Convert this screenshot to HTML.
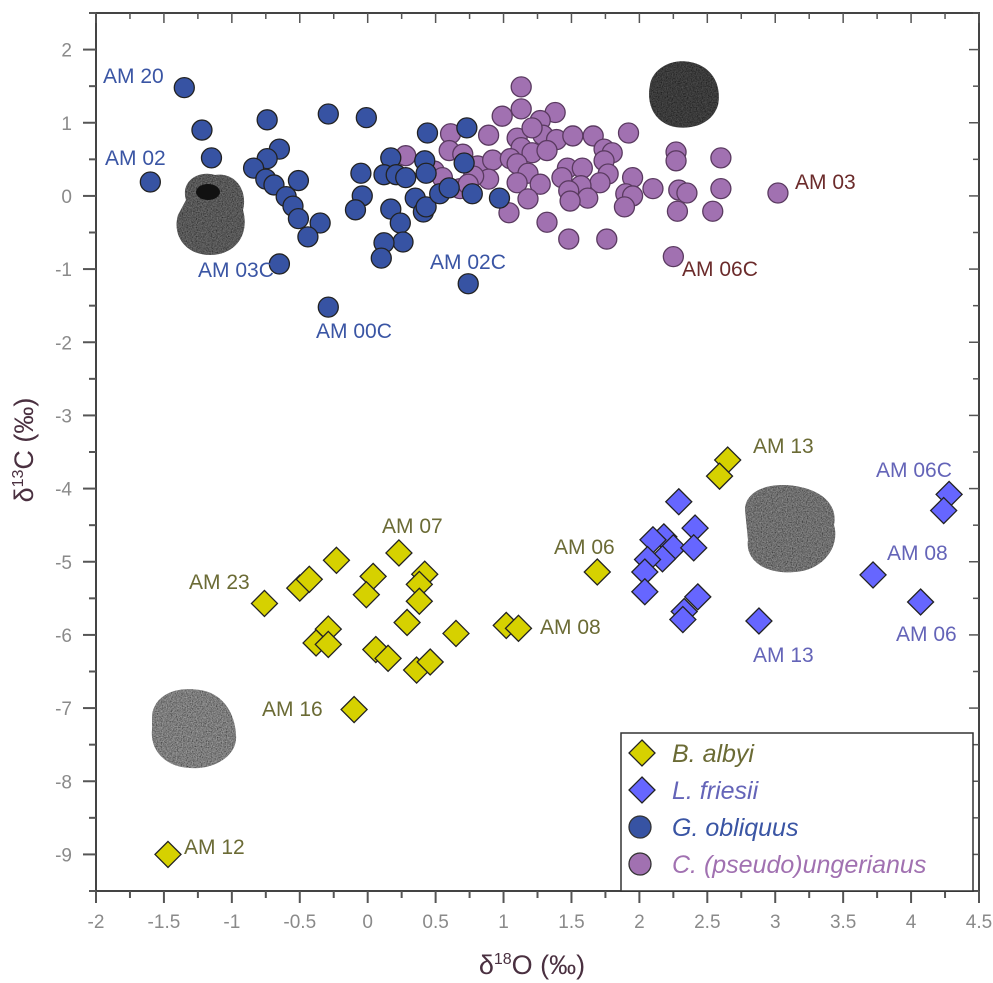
<!DOCTYPE html>
<html><head><meta charset="utf-8"><style>
html,body{margin:0;padding:0;background:#fff}
svg{display:block;font-family:"Liberation Sans",sans-serif}
</style></head><body>
<svg id="chart" width="993" height="983" viewBox="0 0 993 983">
<defs>
<filter id="grain" x="0" y="0" width="100%" height="100%">
<feTurbulence type="fractalNoise" baseFrequency="0.8" numOctaves="2" result="n"/>
<feColorMatrix in="n" type="matrix" values="0 0 0 0 0  0 0 0 0 0  0 0 0 0 0  0 0 0 -1.2 1.1" result="g"/>
<feComposite in="g" in2="SourceGraphic" operator="in" result="m"/>
<feMerge><feMergeNode in="SourceGraphic"/><feMergeNode in="m"/></feMerge>
</filter>
</defs>
<g id="axes"></g>
<g id="pics"></g>
<g id="marks"></g>
<g id="labels"></g>
</svg>
<script>
const xTicks=[-2,-1.5,-1,-0.5,0,0.5,1,1.5,2,2.5,3,3.5,4,4.5];
const yTicks=[2,1,0,-1,-2,-3,-4,-5,-6,-7,-8,-9];
const obliquusX=[-1.35,-1.22,-1.15,-1.60,-0.74,-0.29,-0.01,-0.65,-0.74,-0.84,-0.75,-0.69,-0.51,-0.60,-0.55,-0.51,-0.35,-0.44,-0.65,-0.29,-0.05,-0.04,-0.09,0.17,0.12,0.21,0.28,0.17,0.24,0.26,0.12,0.10,0.44,0.42,0.43,0.35,0.41,0.43,0.53,0.60,0.73,0.71,0.77,0.97,0.74];
const obliquusY=[1.48,0.90,0.52,0.19,1.04,1.12,1.07,0.64,0.51,0.38,0.23,0.15,0.21,-0.01,-0.14,-0.31,-0.37,-0.56,-0.93,-1.52,0.31,0.0,-0.19,0.52,0.29,0.29,0.25,-0.18,-0.37,-0.63,-0.64,-0.85,0.86,0.48,0.31,-0.03,-0.22,-0.15,0.03,0.11,0.93,0.45,0.03,-0.03,-1.20];
const ungerX=[0.28,0.49,0.68,0.83,0.61,1.13,1.13,0.99,1.38,1.27,0.89,1.10,1.29,1.39,1.51,1.66,1.92,1.21,1.13,1.21,1.32,1.74,1.80,2.27,2.27,2.60,0.60,0.70,0.81,0.92,1.05,1.10,1.18,0.89,0.78,0.55,0.74,1.10,1.27,1.47,1.58,1.43,1.74,1.77,1.71,1.57,1.48,1.62,1.49,1.18,1.04,1.32,1.48,1.76,1.95,1.90,1.95,1.89,2.10,2.29,2.35,2.28,2.60,2.54,3.02,2.25];
const ungerY=[0.55,0.34,0.10,0.38,0.85,1.49,1.19,1.09,1.14,1.03,0.83,0.79,0.83,0.77,0.82,0.82,0.86,0.93,0.66,0.59,0.62,0.64,0.59,0.60,0.48,0.52,0.62,0.57,0.41,0.49,0.51,0.44,0.31,0.23,0.27,0.25,0.16,0.18,0.16,0.38,0.38,0.25,0.48,0.30,0.18,0.14,0.07,-0.03,-0.07,-0.04,-0.23,-0.36,-0.59,-0.59,0.25,0.03,0.00,-0.15,0.10,0.08,0.04,-0.21,0.10,-0.21,0.04,-0.83];
const albyiX=[-0.76,-0.50,-0.43,-0.23,0.04,-0.01,0.23,0.42,0.38,0.38,0.29,-0.29,-0.38,-0.29,0.06,0.15,0.36,0.46,0.65,1.02,1.11,1.69,-0.10,-1.47,2.65,2.59];
const albyiY=[-5.57,-5.36,-5.24,-4.98,-5.20,-5.45,-4.88,-5.17,-5.31,-5.54,-5.83,-5.92,-6.11,-6.13,-6.20,-6.32,-6.48,-6.37,-5.98,-5.87,-5.91,-5.14,-7.02,-9.0,-3.61,-3.83];
const friesiiX=[2.29,2.41,2.18,2.10,2.25,2.40,2.17,2.06,2.04,2.04,2.43,2.33,2.32,2.88,3.72,4.07,4.28,4.24];
const friesiiY=[-4.18,-4.54,-4.66,-4.70,-4.81,-4.81,-4.96,-4.97,-5.14,-5.41,-5.48,-5.68,-5.79,-5.81,-5.18,-5.55,-4.08,-4.30];

const L=96,R=979,T=13,B=891;
const X0=-2,X1=4.5,Y0=-9.5,Y1=2.5;
const sx=v=>L+(v-X0)/(X1-X0)*(R-L);
const sy=v=>B-(v-Y0)/(Y1-Y0)*(B-T);
const NS="http://www.w3.org/2000/svg";
function mk(tag,attrs,parent,text){const e=document.createElementNS(NS,tag);for(const k in attrs)e.setAttribute(k,attrs[k]);if(text!==undefined)e.textContent=text;parent.appendChild(e);return e;}
const axes=document.getElementById('axes');
const frame=mk('rect',{x:L,y:T,width:R-L,height:B-T,fill:'none',stroke:'#444','stroke-width':2},axes);


for(let v=-2;v<=4.5001;v+=0.25){
  const major=Math.abs(v*2-Math.round(v*2))<1e-6;
  const x=sx(v);
  const t=mk('line',{x1:x,x2:x,y1:B,y2:B+(major?12:7),stroke:'#555','stroke-width':2},axes);
  
  
  const t2=mk('line',{x1:x,x2:x,y1:T,y2:T+(major?10:6),stroke:'#555','stroke-width':1.5},axes);
  
  
}
xTicks.forEach(v=>{
  const t=mk('text',{x:sx(v),y:B+37,'text-anchor':'middle','font-size':19,fill:'#8a8a8a'},axes,String(v));
  
  
});
for(let v=-9.5;v<=2.5001;v+=0.5){
  const major=Math.abs(v-Math.round(v))<1e-6;
  const y=sy(v);
  const t=mk('line',{x1:L-(major?13:7),x2:L,y1:y,y2:y,stroke:'#555','stroke-width':2},axes);
  
  
  const t2=mk('line',{x1:R-(major?10:6),x2:R,y1:y,y2:y,stroke:'#555','stroke-width':1.5},axes);
  
  
}
yTicks.forEach(v=>{
  const t=mk('text',{x:L-24,y:sy(v)+7,'text-anchor':'end','font-size':19,fill:'#8a8a8a'},axes,String(v));
  
  
});
const xt=mk('text',{x:532,y:974,'text-anchor':'middle','font-size':27,fill:'#4a3040'},axes);


xt.innerHTML='δ<tspan dy="-10" font-size="16">18</tspan><tspan dy="10">O (‰)</tspan>';
const yt=mk('text',{x:0,y:0,'text-anchor':'middle','font-size':27,fill:'#4a3040',transform:'translate(33,450) rotate(-90)'},axes);


yt.innerHTML='δ<tspan dy="-10" font-size="16">13</tspan><tspan dy="10">C  (‰)</tspan>';

const pics=document.getElementById('pics');
function blob(d,fill,name){const p=mk('path',{d:d,fill:fill,filter:'url(#grain)'},pics);return p;}
blob('M186,200 C180,180 200,170 215,175 C235,172 248,190 243,210 C250,235 235,255 210,255 C185,255 172,235 178,215 Z','#7a7a7a','obliquus-image');
mk('ellipse',{cx:208,cy:192,rx:12,ry:8,fill:'#111'},pics);
blob('M650,85 C652,70 670,58 690,62 C712,66 722,85 718,105 C713,122 695,130 675,127 C655,123 646,105 650,85 Z','#555','ungerianus-image');
blob('M745,510 C745,490 770,482 795,486 C822,490 838,505 834,525 C840,545 825,570 795,572 C765,575 745,560 748,540 Z','#9a9a9a','friesii-image');
blob('M152,715 C155,695 175,686 200,690 C222,693 235,712 236,735 C238,755 215,770 190,768 C165,767 150,750 152,730 Z','#ababab','albyi-image');

const marks=document.getElementById('marks');
function diamond(x,y,fill,name){const s=13;const p=mk('polygon',{points:`${x},${y-s} ${x+s},${y} ${x},${y+s} ${x-s},${y}`,fill:fill,stroke:'#222','stroke-width':1.3},marks);return p;}
function circle(x,y,fill,name){const c=mk('circle',{cx:x,cy:y,r:10,fill:fill,stroke:'#222','stroke-width':1.3},marks);return c;}
ungerX.forEach((v,i)=>{const c=circle(sx(v),sy(ungerY[i]),'#a171b1','ungerianus-point');c.setAttribute('stroke','#5a3a60');});
obliquusX.forEach((v,i)=>{circle(sx(v),sy(obliquusY[i]),'#3753a3','obliquus-point');});
friesiiX.forEach((v,i)=>{diamond(sx(v),sy(friesiiY[i]),'#6666ff','friesii-point');});
albyiX.forEach((v,i)=>{diamond(sx(v),sy(albyiY[i]),'#d6d100','albyi-point');});

const labels=document.getElementById('labels');
const ann=[
['AM 20',103,83,'#3a55a4'],['AM 02',105,165,'#3a55a4'],['AM 03C',198,277,'#3a55a4'],['AM 00C',316,338,'#3a55a4'],['AM 02C',430,269,'#3a55a4'],
['AM 06C',682,276,'#6b2b2b'],['AM 03',795,189,'#6b2b2b'],
['AM 07',382,533,'#6b6b35'],['AM 23',189,589,'#6b6b35'],['AM 06',554,554,'#6b6b35'],['AM 08',540,634,'#6b6b35'],['AM 16',262,716,'#6b6b35'],['AM 12',184,854,'#6b6b35'],['AM 13',753,453,'#6b6b35'],
['AM 06C',876,477,'#6464b8'],['AM 08',887,560,'#6464b8'],['AM 06',896,641,'#6464b8'],['AM 13',753,662,'#6464b8']];
ann.forEach(a=>{const t=mk('text',{x:a[1],y:a[2],'font-size':21,fill:a[3]},labels,a[0]);});

const lg=mk('g',{},labels);


mk('rect',{x:621,y:733,width:352,height:158,fill:'#fff',stroke:'#333','stroke-width':1.5},lg);
const entries=[['B. albyi','#6b6b35','d','#d6d100'],['L. friesii','#6464b8','d','#6666ff'],['G. obliquus','#3a55a4','c','#3753a3'],['C. (pseudo)ungerianus','#a171b1','c','#a171b1']];
entries.forEach((e,i)=>{
  const y=753+i*37;
  const g=mk('g',{},lg);
  
  
  if(e[2]==='d') mk('polygon',{points:`642,${y-13} 655,${y} 642,${y+13} 629,${y}`,fill:e[3],stroke:'#222','stroke-width':1.3},g);
  else mk('circle',{cx:640,cy:y,r:11,fill:e[3],stroke:'#333','stroke-width':1.3},g);
  mk('text',{x:672,y:y+9,'font-size':25,'font-style':'italic',fill:e[1]},g,e[0]);
});
</script>
</body></html>
